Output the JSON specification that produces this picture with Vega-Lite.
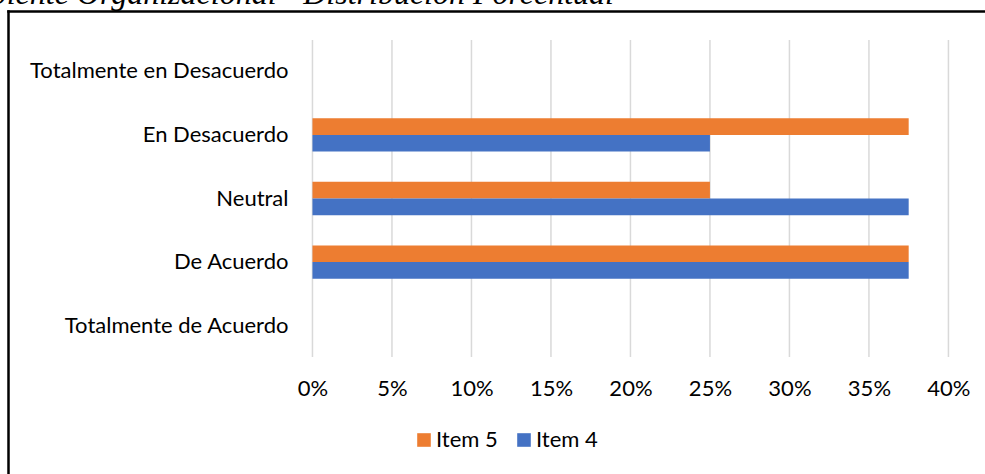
{
  "$schema": "https://vega.github.io/schema/vega-lite/v6.json",
  "width": 977,
  "height": 463,
  "autosize": "none",
  "padding": {"left": 8, "top": 11, "right": 0, "bottom": 0},
  "background": "white",
  "title": {
    "text": "Ambiente Organizacional - Distribución Porcentual",
    "anchor": "start",
    "frame": "group",
    "font": "Liberation Serif",
    "fontStyle": "italic",
    "fontWeight": "normal",
    "fontSize": 32,
    "color": "black",
    "baseline": "alphabetic",
    "offset": 2,
    "dx": -60,
    "dy": 27
  },
  "datasets": {
    "respuestas": [
      {"categoria": "Totalmente en Desacuerdo", "item": "Item 5", "pct": 0},
      {"categoria": "Totalmente en Desacuerdo", "item": "Item 4", "pct": 0},
      {"categoria": "En Desacuerdo", "item": "Item 5", "pct": 0.375},
      {"categoria": "En Desacuerdo", "item": "Item 4", "pct": 0.25},
      {"categoria": "Neutral", "item": "Item 5", "pct": 0.25},
      {"categoria": "Neutral", "item": "Item 4", "pct": 0.375},
      {"categoria": "De Acuerdo", "item": "Item 5", "pct": 0.375},
      {"categoria": "De Acuerdo", "item": "Item 4", "pct": 0.375},
      {"categoria": "Totalmente de Acuerdo", "item": "Item 5", "pct": 0},
      {"categoria": "Totalmente de Acuerdo", "item": "Item 4", "pct": 0}
    ],
    "rejilla": [
      {"pct": 0}, {"pct": 0.05}, {"pct": 0.1}, {"pct": 0.15}, {"pct": 0.2},
      {"pct": 0.25}, {"pct": 0.3}, {"pct": 0.35}, {"pct": 0.4}
    ]
  },
  "encoding": {
    "x": {
      "field": "pct",
      "type": "quantitative",
      "scale": {"domain": [-0.1915, 0.423], "nice": false, "zero": false},
      "axis": {
        "orient": "top",
        "title": null,
        "values": [0, 0.05, 0.1, 0.15, 0.2, 0.25, 0.3, 0.35, 0.4],
        "format": ".0%",
        "domain": true,
        "domainColor": "black",
        "domainWidth": 2.5,
        "domainCap": "square",
        "ticks": false,
        "tickSize": 0,
        "grid": false,
        "labelPadding": -377,
        "labelBaseline": "middle",
        "labelFont": "Lato",
        "labelFontSize": 22,
        "labelColor": "black",
        "labelFlush": false,
        "labelOverlap": false
      }
    }
  },
  "layer": [
    {
      "data": {"name": "rejilla"},
      "mark": {"type": "rule", "color": "#d9d9d9", "strokeWidth": 1.5},
      "encoding": {
        "y": {
          "datum": 0,
          "type": "quantitative",
          "scale": {"domain": [-0.3691, 1.0915], "nice": false, "zero": false},
          "axis": {
            "orient": "left",
            "title": null,
            "domain": true,
            "domainColor": "black",
            "domainWidth": 2.5,
            "domainCap": "square",
            "ticks": false,
            "labels": false,
            "grid": false
          }
        },
        "y2": {"datum": 1}
      }
    },
    {
      "data": {"name": "respuestas"},
      "mark": {"type": "bar"},
      "encoding": {
        "y": {
          "field": "categoria",
          "type": "nominal",
          "sort": ["Totalmente en Desacuerdo", "En Desacuerdo", "Neutral", "De Acuerdo", "Totalmente de Acuerdo"],
          "scale": {"range": [29, 346], "paddingInner": 0.475, "paddingOuter": 0.23},
          "axis": {
            "orient": "left",
            "title": null,
            "domain": false,
            "ticks": false,
            "tickSize": 0,
            "grid": false,
            "labelPadding": -280,
            "labelFont": "Lato",
            "labelFontSize": 22,
            "labelColor": "black",
            "labelLimit": 400
          }
        },
        "yOffset": {
          "field": "item",
          "type": "nominal",
          "sort": ["Item 5", "Item 4"],
          "scale": {"paddingInner": 0, "paddingOuter": 0}
        },
        "x2": {"datum": 0},
        "color": {
          "field": "item",
          "type": "nominal",
          "scale": {"domain": ["Item 5", "Item 4"], "range": ["#ED7D31", "#4472C4"]},
          "legend": {
            "orient": "none",
            "direction": "horizontal",
            "legendX": 405,
            "legendY": 418,
            "title": null,
            "symbolType": "square",
            "symbolSize": 185,
            "symbolStrokeWidth": 0,
            "symbolOpacity": 1,
            "labelFont": "Lato",
            "labelFontSize": 22,
            "labelColor": "black",
            "labelOffset": 1,
            "columnPadding": 15
          }
        }
      }
    }
  ],
  "resolve": {"scale": {"y": "independent"}},
  "config": {
    "view": {"stroke": null}
  }
}
